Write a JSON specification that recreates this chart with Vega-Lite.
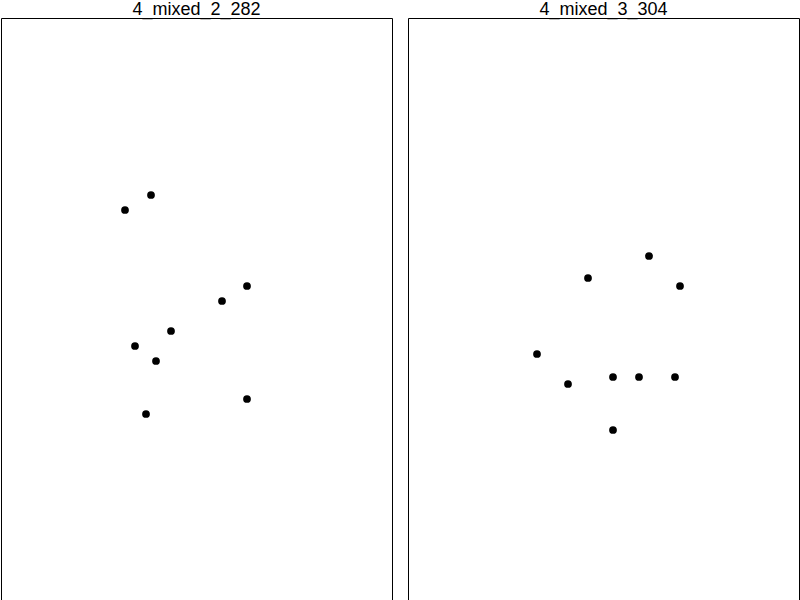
{
  "$schema": "https://vega.github.io/schema/vega-lite/v6.json",
  "padding": 0,
  "background": "white",
  "data": {"values": [
    {"panel": "4_mixed_2_282", "x": 124, "y": 390},
    {"panel": "4_mixed_2_282", "x": 150, "y": 405},
    {"panel": "4_mixed_2_282", "x": 221, "y": 299},
    {"panel": "4_mixed_2_282", "x": 246, "y": 314},
    {"panel": "4_mixed_2_282", "x": 170, "y": 269},
    {"panel": "4_mixed_2_282", "x": 134, "y": 254},
    {"panel": "4_mixed_2_282", "x": 155, "y": 239},
    {"panel": "4_mixed_2_282", "x": 246, "y": 201},
    {"panel": "4_mixed_2_282", "x": 145, "y": 186},
    {"panel": "4_mixed_3_304", "x": 241, "y": 344},
    {"panel": "4_mixed_3_304", "x": 180, "y": 322},
    {"panel": "4_mixed_3_304", "x": 272, "y": 314},
    {"panel": "4_mixed_3_304", "x": 129, "y": 246},
    {"panel": "4_mixed_3_304", "x": 160, "y": 216},
    {"panel": "4_mixed_3_304", "x": 205, "y": 223},
    {"panel": "4_mixed_3_304", "x": 231, "y": 223},
    {"panel": "4_mixed_3_304", "x": 267, "y": 223},
    {"panel": "4_mixed_3_304", "x": 205, "y": 170}
  ]},
  "spacing": 14,
  "hconcat": [
    {
      "title": {"text": "4_mixed_2_282"},
      "width": 391,
      "height": 582,
      "transform": [{"filter": "datum.panel === '4_mixed_2_282'"}],
      "mark": {"type": "circle", "size": 60, "color": "black", "opacity": 1},
      "encoding": {
        "x": {"field": "x", "type": "quantitative", "scale": {"domain": [0, 391], "nice": false, "zero": false}, "axis": null},
        "y": {"field": "y", "type": "quantitative", "scale": {"domain": [0, 582], "nice": false, "zero": false}, "axis": null}
      }
    },
    {
      "title": {"text": "4_mixed_3_304"},
      "width": 391,
      "height": 582,
      "transform": [{"filter": "datum.panel === '4_mixed_3_304'"}],
      "mark": {"type": "circle", "size": 60, "color": "black", "opacity": 1},
      "encoding": {
        "x": {"field": "x", "type": "quantitative", "scale": {"domain": [0, 391], "nice": false, "zero": false}, "axis": null},
        "y": {"field": "y", "type": "quantitative", "scale": {"domain": [0, 582], "nice": false, "zero": false}, "axis": null}
      }
    }
  ],
  "config": {
    "view": {"stroke": "black", "strokeWidth": 1},
    "title": {"fontSize": 18, "font": "Liberation Sans", "fontWeight": "normal", "color": "black", "offset": -1, "anchor": "middle", "frame": "group"}
  }
}
